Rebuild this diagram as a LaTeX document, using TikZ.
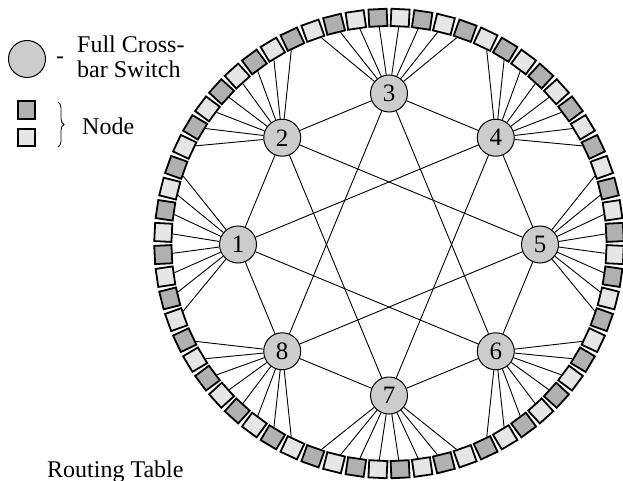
\documentclass[tikz,border=0pt]{standalone}
\usepackage{fontspec}
\setmainfont{Liberation Serif}
\usetikzlibrary{decorations.pathreplacing}
\definecolor{swfill}{HTML}{CCCCCC}
\definecolor{nodedark}{HTML}{B0B0B0}
\definecolor{nodelight}{HTML}{E6E6E6}
\begin{document}
\begin{tikzpicture}[x=1pt,y=-1pt,
  switch/.style={circle,draw,line width=1pt,fill=swfill,minimum size=37pt,
    inner sep=0pt,font=\fontsize{25}{25}\selectfont},
  port/.style={rectangle,draw,line width=1.8pt,minimum width=17.2pt,
    minimum height=18.2pt,inner sep=0pt},
  link/.style={line width=0.9pt},
  legendtext/.style={font=\fontsize{24}{25}\selectfont,inner sep=0pt,anchor=base west}]
\useasboundingbox (0,0) rectangle (623,481);

% crossbar switches on the inner circle
\foreach \k in {1,...,8} {
  \pgfmathsetmacro\th{225-45*\k}
  \node[switch] (s\k) at ({389+151*cos(\th)},{244.5-151*sin(\th)}) {\k};
}

% ring of 64 processing nodes, alternating shades
\foreach \j in {0,...,63} {
  \pgfmathsetmacro\a{2.8125+5.625*\j}
  \pgfmathtruncatemacro\odd{mod(\j,2)}
  \ifnum\odd=0 \def\col{nodedark}\else\def\col{nodelight}\fi
  \node[port,fill=\col,rotate=\a] (q\j) at ({389+226*cos(\a)},{243.5-226*sin(\a)}) {};
}

% each switch serves the eight nodes of its sector
\foreach \k in {1,...,8} {
  \foreach \i in {0,...,7} {
    \pgfmathtruncatemacro\jj{mod(36-8*\k+\i+128,64)}
    \draw[link] (s\k) -- (q\jj);
  }
}

% switch-to-switch links: ring and star
\foreach \k in {1,...,8} {
  \pgfmathtruncatemacro\n{mod(\k,8)+1}
  \pgfmathtruncatemacro\m{mod(\k+2,8)+1}
  \draw[link] (s\k) -- (s\n);
  \draw[link] (s\k) -- (s\m);
}

% legend
\node[switch] (lgsw) at (27,59) {};
\node[font=\fontsize{24}{24}\selectfont,inner sep=0pt] (lgdash) at (60,60) {-};
\node[legendtext] (lgt1) at (77,53) {Full Cross-};
\node[legendtext] (lgt2) at (77,78) {bar Switch};
\node[port,fill=nodedark,minimum width=17.4pt,minimum height=17.4pt] (lgd) at (26.5,110) {};
\node[port,fill=nodelight,minimum width=17.4pt,minimum height=17.4pt] (lgl) at (26.5,137.5) {};
\coordinate (brtop) at (58,102);
\coordinate (brbot) at (58,147);
\draw[line width=0.8pt,decorate,decoration={brace,amplitude=6pt}] (brtop) -- (brbot);
\node[legendtext] (lgnode) at (82,135) {Node};

\node[legendtext] (rt) at (47,477) {Routing Table};
\end{tikzpicture}
\end{document}
